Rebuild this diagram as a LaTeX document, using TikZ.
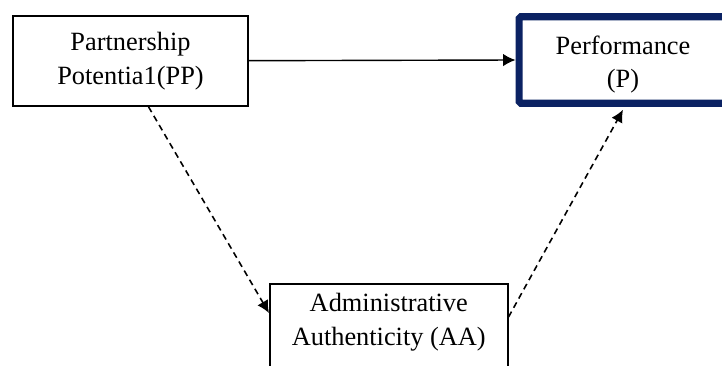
\documentclass[tikz,border=0pt]{standalone}
\usepackage{fontspec}
\setmainfont{Liberation Serif}
\usetikzlibrary{arrows.meta, positioning, calc}
\definecolor{ModelNavy}{HTML}{0B2263}
\definecolor{ModelBlack}{HTML}{000000}
\definecolor{ModelWhite}{HTML}{ffffff}
\tikzset{
    % Construct box style
    construct/.style={
        rectangle,
        draw=ModelBlack,
        fill=ModelWhite,
        line width=0.9pt,
        align=center,
        font=\fontsize{15}{19}\selectfont
    },
    % Outcome box style
    outcome/.style={
        rectangle,
        draw=ModelNavy,
        fill=ModelWhite,
        line width=4pt,
        rounded corners=1pt,
        align=center,
        font=\fontsize{15}{19}\selectfont
    },
    % Direct path
    arrow/.style={
        -{Latex[length=7pt,width=7pt]},
        line width=0.8pt,
        color=ModelBlack
    },
    % Mediated path
    dasharrow/.style={
        -{Latex[length=7pt,width=7pt]},
        line width=0.9pt,
        dash pattern=on 3.5pt off 2.5pt,
        color=ModelBlack
    }
}
\begin{document}
\begin{tikzpicture}[x=0.02cm, y=-0.02cm]
    \useasboundingbox (0,0) rectangle (722,365);
    \clip (0,0) rectangle (722,365);

    \node (pp) [construct, minimum width=4.7cm, minimum height=1.8cm] at (130.5,61) {Partnership\\Potentia1(PP)};
    \node (perf) [outcome, minimum width=4.16cm, minimum height=1.73cm] at (623,60) {\rule{0pt}{16pt}Performance\\(P)};
    \node (aa) [construct, minimum width=4.76cm, minimum height=2.4cm, anchor=north west] at (269,283) {Administrative\\Authenticity (AA)\\[9pt]\mbox{}};

    % Direct effect
    \draw [arrow] (pp) -- (perf.west);

    % Mediated effect
    \draw [dasharrow] ($(pp.south)+(18,0)$) -- ($(aa.north west)+(0,30)$);
    \draw [dasharrow] ($(aa.north east)+(0,34)$) -- ($(perf.south)+(0,3)$);
\end{tikzpicture}
\end{document}
